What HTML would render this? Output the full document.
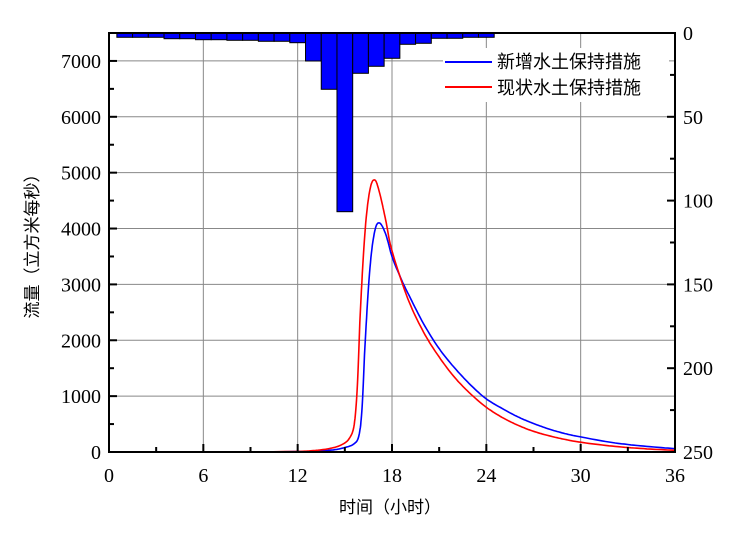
<!DOCTYPE html>
<html><head><meta charset="utf-8"><style>
html,body{margin:0;padding:0;background:#fff;}
svg{display:block;}
text{font-family:"Liberation Serif","Noto Serif CJK SC",serif;font-size:20px;fill:#000;}
.cjk{font-family:"Liberation Sans","Noto Sans CJK SC",sans-serif;font-size:17px;}
</style></head><body>
<svg id="s" width="749" height="540" viewBox="0 0 749 540" xmlns="http://www.w3.org/2000/svg">
<rect width="749" height="540" fill="#fff"/>
<g id="grid" stroke="#888" stroke-width="1"></g>
<g id="bars" fill="#0000ff" stroke="#000" stroke-width="1"></g>
<polyline id="blue" fill="none" stroke="#0000ff" stroke-width="1.6"/>
<polyline id="red" fill="none" stroke="#ff0000" stroke-width="1.6"/>
<rect x="443" y="48" width="226" height="54" fill="#fff"/>
<line x1="445" y1="62" x2="492" y2="62" stroke="#0000ff" stroke-width="2"/>
<text x="497" y="68" class="cjk" style="font-size:18px">新增水土保持措施</text>
<line x1="445" y1="87" x2="492" y2="87" stroke="#ff0000" stroke-width="2"/>
<text x="497" y="94" class="cjk" style="font-size:18px">现状水土保持措施</text>
<rect x="109" y="33" width="566" height="419" fill="none" stroke="#000" stroke-width="2"/>
<g id="ticks" stroke="#000" stroke-width="2"></g>
<g id="labels"></g>
<text x="390" y="513" class="cjk" text-anchor="middle">时间（小时）</text>
<text transform="translate(38,242) rotate(-90)" class="cjk" text-anchor="middle">流量（立方米每秒）</text>
</svg>
<script>
var L=109,R=675,T=33,B=452;
function X(t){return L+(R-L)*t/36;}
function Y(q){return B-(B-T)*q/7500;}
var g=document.getElementById('grid'),tk=document.getElementById('ticks'),lb=document.getElementById('labels');
var NS='http://www.w3.org/2000/svg';
function el(p,n,a,txt){var e=document.createElementNS(NS,n);for(var k in a)e.setAttribute(k,a[k]);if(txt!==undefined)e.textContent=txt;p.appendChild(e);return e;}
for(var t=6;t<36;t+=6)el(g,'line',{x1:X(t),y1:T,x2:X(t),y2:B});
for(var q=1000;q<=7000;q+=1000)el(g,'line',{x1:L,y1:Y(q),x2:R,y2:Y(q)});
for(var t=0;t<=36;t+=3){var len=t%6==0?8:5;el(tk,'line',{x1:X(t),y1:B,x2:X(t),y2:B-len});}
for(var t=0;t<=36;t+=6)el(lb,'text',{x:X(t),y:B+30,'text-anchor':'middle'},String(t));
for(var q=0;q<=7500;q+=500){var len=q%1000==0?8:5;el(tk,'line',{x1:L,y1:Y(q),x2:L+len,y2:Y(q)});}
for(var q=0;q<=7000;q+=1000)el(lb,'text',{x:L-8,y:Y(q)+7,'text-anchor':'end'},String(q));
for(var m=0;m<=250;m+=25){var y=T+(B-T)*m/250;var len=m%50==0?8:5;el(tk,'line',{x1:R,y1:y,x2:R-len,y2:y});}
for(var m=0;m<=250;m+=50){var y=T+(B-T)*m/250;el(lb,'text',{x:R+8,y:y+7,'text-anchor':'start'},String(m));}
var bot=[37.3,37.3,37.3,38.7,38.7,39.7,39.7,40.3,40.3,41.3,41.3,42.7,61,89.3,211.7,73.3,66.3,58.3,44.3,43.3,38.3,38.3,37.3,37.3];
var bg=document.getElementById('bars');
for(var i=0;i<24;i++){var x0=X(i+0.5),x1=X(i+1.5);el(bg,'rect',{x:x0,y:T,width:x1-x0,height:bot[i]-T});}
var red=[[9,0],[12,10],[13,25],[14,60],[14.8,130],[15.3,250],[15.6,500],[15.8,1200],[16.0,2600],[16.3,4000],[16.6,4700],[16.9,4870],[17.2,4650],[17.6,4150],[18,3600],[19,2750],[20,2150],[21,1700],[22,1330],[23,1040],[24,800],[25,620],[26,480],[27,370],[28,290],[29,225],[30,175],[32,105],[34,60],[36,30]];
var blue=[[9,0],[12,8],[14,30],[15,80],[15.6,150],[15.9,300],[16.1,800],[16.3,2000],[16.6,3300],[16.9,3950],[17.2,4100],[17.6,3900],[18,3500],[18.5,3150],[19,2850],[20,2300],[21,1850],[22,1500],[23,1200],[24,950],[25,780],[26,630],[27,510],[28,410],[29,330],[30,270],[32,170],[34,105],[36,60]];
function spline(p){var out=[];for(var i=0;i<p.length-1;i++){var p0=p[i-1]||p[i],p1=p[i],p2=p[i+1],p3=p[i+2]||p[i+1];for(var s=0;s<10;s++){var u=s/10,u2=u*u,u3=u2*u;function c(a,b,cc,d){return 0.5*((2*b)+(-a+cc)*u+(2*a-5*b+4*cc-d)*u2+(-a+3*b-3*cc+d)*u3);}var t=c(p0[0],p1[0],p2[0],p3[0]),q=Math.max(0,c(p0[1],p1[1],p2[1],p3[1]));out.push(X(t).toFixed(1)+','+Y(q).toFixed(1));}}var l=p[p.length-1];out.push(X(l[0]).toFixed(1)+','+Y(l[1]).toFixed(1));return out.join(' ');}
document.getElementById('red').setAttribute('points',spline(red));
document.getElementById('blue').setAttribute('points',spline(blue));
</script>
</body></html>
